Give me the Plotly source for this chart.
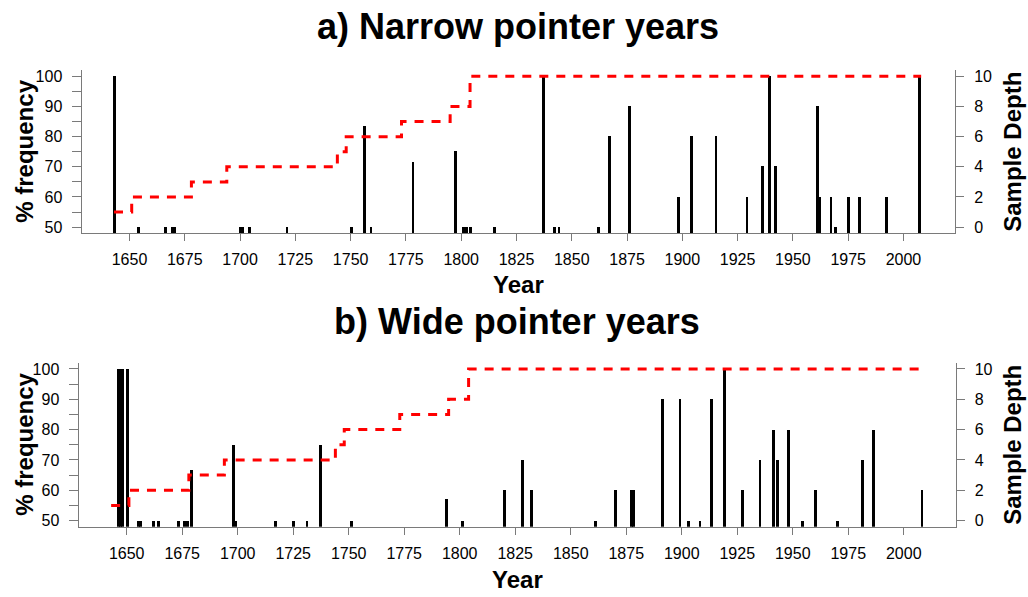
import plotly.graph_objects as go

# Pointer-year frequencies (% of trees) and chronology sample depth
narrow_years = [1643, 1654, 1666, 1669, 1670, 1700, 1701, 1704, 1721, 1750,
                1756, 1759, 1778, 1797, 1801, 1802, 1804, 1815, 1837, 1842,
                1844, 1862, 1867, 1876, 1898, 1904, 1915, 1929, 1936, 1939,
                1942, 1961, 1962, 1967, 1969, 1975, 1980, 1992, 2007]
narrow_pct = [100, 50, 50, 50, 50, 50, 50, 50, 50, 50,
              83.3, 50, 71.4, 75, 50, 50, 50, 50, 100, 50,
              50, 50, 80, 90, 60, 80, 80, 60, 70, 100,
              70, 90, 60, 60, 50, 60, 60, 60, 100]

wide_years = [1646, 1647, 1648, 1650, 1655, 1656, 1662, 1664, 1673, 1676,
              1677, 1679, 1698, 1699, 1717, 1725, 1731, 1737, 1751, 1794,
              1801, 1820, 1828, 1832, 1861, 1870, 1877, 1878, 1891, 1899,
              1903, 1908, 1913, 1919, 1927, 1935, 1941, 1943, 1948, 1954,
              1960, 1970, 1981, 1986, 2008]
wide_pct = [100, 100, 100, 100, 50, 50, 50, 50, 50, 50,
            50, 66.7, 75, 50, 50, 50, 50, 75, 50, 57.1,
            50, 60, 70, 60, 50, 60, 60, 60, 90, 90,
            50, 50, 90, 100, 60, 70, 80, 70, 80, 50,
            60, 50, 70, 80, 60]

depth_years = [1643, 1651, 1678, 1694, 1744, 1748, 1773, 1795, 1804, 2008]
depth_values = [1, 2, 3, 4, 5, 6, 7, 8, 10, 10]

x_ticks = list(range(1650, 2001, 25))
pct_ticks = list(range(50, 101, 5))
pct_text = [str(v) if v % 10 == 0 else "" for v in pct_ticks]
depth_ticks = list(range(0, 11, 2))

W, H = 1028, 597
FONT = "Liberation Sans, Arial, Helvetica, sans-serif"
AXIS_GREY = "#7a7a7a"
BAR_W = 1.3


def px_x(p):
    return p / W


def px_y(p):
    return 1 - p / H


fig = go.Figure()

panels = [
    dict(years=narrow_years, pct=narrow_pct, xa="x", ya="y", ya2="y2"),
    dict(years=wide_years, pct=wide_pct, xa="x2", ya="y3", ya2="y4"),
]
for p in panels:
    fig.add_trace(go.Bar(
        x=p["years"], y=p["pct"], width=BAR_W,
        marker=dict(color="black", line=dict(width=0)),
        xaxis=p["xa"], yaxis=p["ya"], showlegend=False,
    ))
    fig.add_trace(go.Scatter(
        x=depth_years, y=depth_values, mode="lines",
        line=dict(color="#ff0000", width=3, dash="9px,8px", shape="hv"),
        xaxis=p["xa"], yaxis=p["ya2"], showlegend=False,
    ))

# pixel geometry of each plotting region: (left, right, top, bottom)
regions = {
    "a": (81.5, 955.0, 68.9, 233.1),
    "b": (78.5, 955.5, 363.9, 529.1),
}

tick_font = dict(size=16, color="black", family=FONT)
x_common = dict(
    range=[1628.3, 2023.3], tickvals=x_ticks, showline=True, linecolor=AXIS_GREY,
    linewidth=1, ticks="outside", ticklen=7, tickcolor=AXIS_GREY, tickwidth=1,
    ticklabelstandoff=5, showgrid=False, zeroline=False, tickfont=tick_font,
)
pct_common = dict(
    range=[48, 102], tickvals=pct_ticks, ticktext=pct_text, showline=True,
    linecolor=AXIS_GREY, linewidth=1, ticks="outside", ticklen=9, tickcolor=AXIS_GREY,
    ticklabelstandoff=6, showgrid=False, zeroline=False, tickfont=tick_font,
)
depth_common = dict(
    range=[-0.4, 10.4], tickvals=depth_ticks, side="right", showline=True,
    linecolor=AXIS_GREY, linewidth=1, ticks="outside", ticklen=8, tickcolor=AXIS_GREY,
    ticklabelstandoff=7, showgrid=False, zeroline=False, tickfont=tick_font,
)

la, ra, ta, ba = regions["a"]
lb, rb, tb, bb = regions["b"]

fig.update_layout(
    width=W, height=H,
    margin=dict(l=0, r=0, t=0, b=0),
    paper_bgcolor="white", plot_bgcolor="white",
    barmode="overlay", bargap=0,
    font=dict(family=FONT, color="black"),
    xaxis=dict(domain=[px_x(la), px_x(ra)], anchor="y", **x_common),
    yaxis=dict(domain=[px_y(ba), px_y(ta)], anchor="x", **pct_common),
    yaxis2=dict(overlaying="y", anchor="x", **depth_common),
    xaxis2=dict(domain=[px_x(lb), px_x(rb)], anchor="y3", **x_common),
    yaxis3=dict(domain=[px_y(bb), px_y(tb)], anchor="x2", **pct_common),
    yaxis4=dict(overlaying="y3", anchor="x2", **depth_common),
)

ann = []


def label(text, x, y, size, angle=0):
    ann.append(dict(
        text=text, x=px_x(x), y=px_y(y), xref="paper", yref="paper",
        showarrow=False, xanchor="center", yanchor="middle", textangle=angle,
        font=dict(size=size, family=FONT, color="black"),
    ))


for key, title, ytitle, yyear in [
    ("a", "a) Narrow pointer years", 25, 285),
    ("b", "b) Wide pointer years", 322, 582),
]:
    l, r, t, b = regions[key]
    cx = (l + r) / 2
    cy = (t + b) / 2
    label(f"<b>{title}</b>", cx, ytitle, 36)
    label("<b>Year</b>", cx, yyear, 24)
    label("<b>% frequency</b>", 25, cy, 24, -90)
    label("<b>Sample Depth</b>", 1013, cy, 24, -90)

fig.update_layout(annotations=ann)

fig.write_html("out.html")
